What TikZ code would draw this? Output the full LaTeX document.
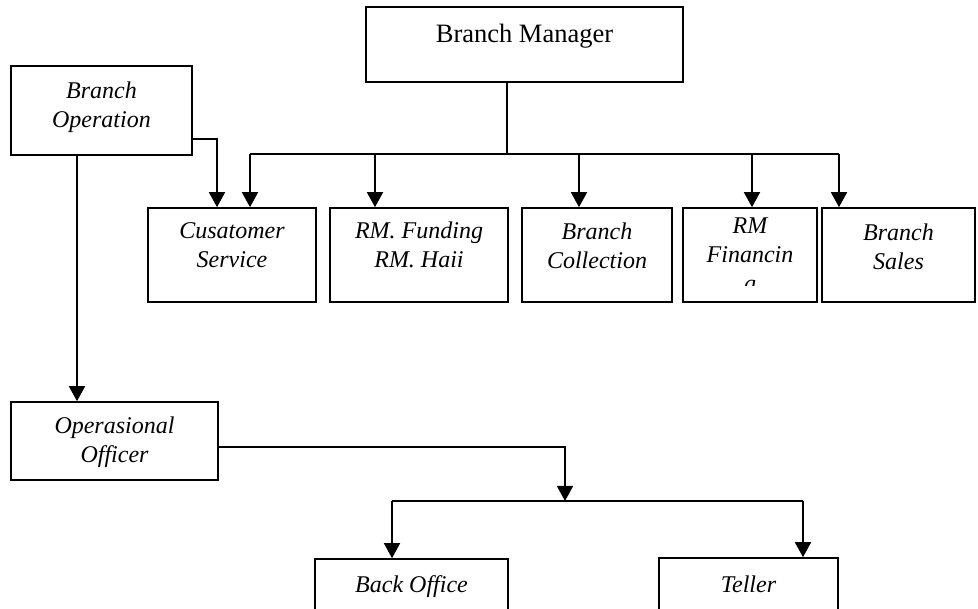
\documentclass[tikz,border=0pt]{standalone}
\usepackage{fontspec}
\setmainfont{Liberation Serif}
\usetikzlibrary{arrows.meta}
\begin{document}
\begin{tikzpicture}[x=1pt,y=-1pt,
  box/.style={draw,line width=1.6pt,inner sep=0pt,anchor=center},
  txt/.style={inner sep=0pt,align=center,anchor=base,font=\fontsize{24}{29}\selectfont\itshape},
  mtxt/.style={inner sep=0pt,anchor=base,font=\fontsize{26.5}{31}\selectfont},
  conn/.style={line width=1.6pt},
  arr/.style={line width=1.6pt,-{Triangle[width=16pt,length=15pt]}}]
\useasboundingbox (0,0) rectangle (978,609);
\clip (0,0) rectangle (978,609);
% boxes
\node[box,minimum width=317pt,minimum height=75pt] (bm) at (524.5,44.5) {};
\node[box,minimum width=181pt,minimum height=89pt] (bo) at (101.5,110.5) {};
\node[box,minimum width=168pt,minimum height=94pt] (cs) at (232,255) {};
\node[box,minimum width=178pt,minimum height=94pt] (rf) at (419,255) {};
\node[box,minimum width=150pt,minimum height=94pt] (bc) at (597,255) {};
\node[box,minimum width=134pt,minimum height=94pt] (rmf) at (750,255) {};
\node[box,minimum width=153pt,minimum height=94pt] (bs) at (898.5,255) {};
\node[box,minimum width=207pt,minimum height=78pt] (oo) at (114.5,441) {};
\node[box,minimum width=193pt,minimum height=66pt] (bk) at (411.5,592) {};
\node[box,minimum width=179pt,minimum height=67pt] (tl) at (748.5,591.5) {};
% texts (anchor = baseline of the last line)
\node[mtxt] (bmt) at (524.5,43) {Branch Manager};
\node[txt] (bot) at (101.5,128) {Branch\\Operation};
\node[txt] (cst) at (232,268) {Cusatomer\\Service};
\node[txt] (rft) at (419,268) {RM. Funding\\RM. Haii};
\node[txt] (bct) at (597,269) {Branch\\Collection};
\begin{scope}
  \clip (683,208) rectangle (817,285.5);
  \node[txt] (rmft) at (750,292) {RM\\Financin\\g};
\end{scope}
\node[txt] (bst) at (898.5,270) {Branch\\Sales};
\node[txt] (oot) at (114.5,463) {Operasional\\Officer};
\node[txt] (bkt) at (411.5,592) {Back Office};
\node[txt] (tlt) at (748.5,592) {Teller};
% manager bus
\coordinate (j1) at (507,154);
\coordinate (a1) at (250,154);
\coordinate (a2) at (375,154);
\coordinate (a3) at (579,154);
\coordinate (a4) at (752,154);
\coordinate (a5) at (839,154);
\draw[conn] (bm.south -| j1) -- (j1);
\draw[conn] (a1) -- (a5);
\draw[arr] (a1) -- (a1 |- cs.north);
\draw[arr] (a2) -- (a2 |- rf.north);
\draw[arr] (a3) -- (a3 |- bc.north);
\draw[arr] (a4) -- (a4 |- rmf.north);
\draw[arr] (a5) -- (a5 |- bs.north);
% branch operation
\coordinate (b1) at (217,139);
\draw[arr] (bo.east |- b1) -- (b1) -- (b1 |- cs.north);
\coordinate (c1) at (77,300);
\draw[arr] (bo.south -| c1) -- (c1 |- oo.north);
% operasional officer
\coordinate (d1) at (565,447);
\coordinate (d2) at (565,501);
\draw[arr] (oo.east |- d1) -- (d1) -- (d2);
\coordinate (e1) at (392,501);
\coordinate (e2) at (803,501);
\draw[conn] (e1) -- (e2);
\draw[arr] (e1) -- (e1 |- bk.north);
\draw[arr] (e2) -- (e2 |- tl.north);
\end{tikzpicture}
\end{document}
